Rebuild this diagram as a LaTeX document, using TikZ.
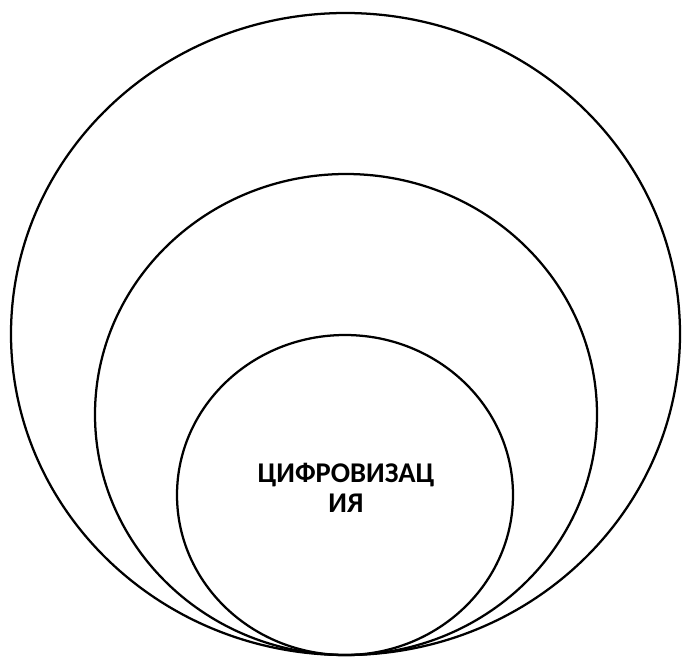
\documentclass[tikz,border=0pt]{standalone}
\usepackage{fontspec}
\setmainfont{Carlito}
\usepackage{tikz}

\begin{document}
\begin{tikzpicture}[x=0.02646cm, y=-0.02646cm, line width=1.7pt]

\useasboundingbox (0,0) rectangle (682,657);

% outer, middle and inner rings, all touching at the bottom
\def\cx{345.5}
\draw (\cx,334) ellipse [x radius=334.5, y radius=321];
\draw (346,414.5) ellipse [x radius=251, y radius=240.5];
\draw (345,495) ellipse [x radius=168, y radius=160];

\node[align=center, font=\fontsize{21.5}{23}\selectfont\bfseries] (label) at (346,488) {ЦИФРОВИЗАЦ\\ИЯ};

\end{tikzpicture}
\end{document}
